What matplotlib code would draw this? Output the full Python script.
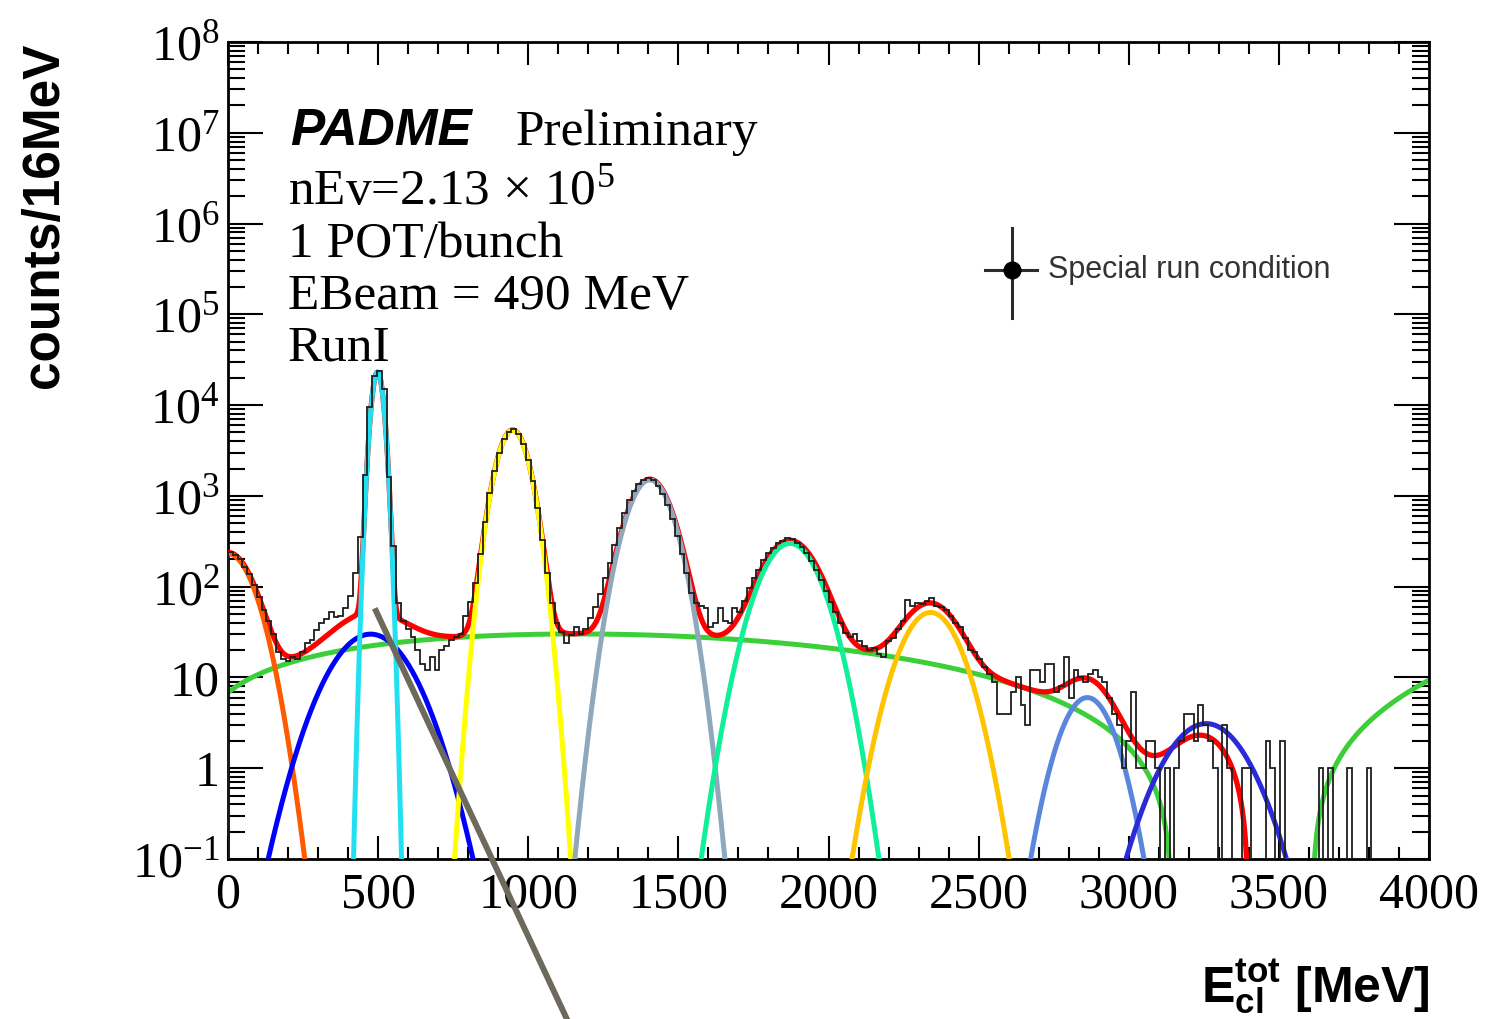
import numpy as np
import matplotlib.pyplot as plt
from matplotlib.lines import Line2D
from matplotlib.ticker import LogLocator, MultipleLocator, NullFormatter

plt.rcParams['font.family'] = 'Liberation Serif'
plt.rcParams['mathtext.fontset'] = 'custom'
plt.rcParams['mathtext.rm'] = 'Liberation Serif'
plt.rcParams['mathtext.it'] = 'Liberation Serif:italic'
plt.rcParams['mathtext.bf'] = 'Liberation Sans:bold'

# total cluster energy, 16 MeV bins from 0 to 4000 MeV
bin_edges = np.arange(0, 4001, 16)
counts = [
    238, 221, 203, 166, 137, 104, 76, 55, 42, 30,
    19, 16, 15, 17, 16, 19, 24, 26, 33, 40,
    44, 52, 46, 48, 58, 78, 141, 355, 1700, 9500,
    21000, 24000, 15000, 1600, 280, 66, 42, 34, 28, 20,
    14, 12, 17, 12, 20, 22, 26, 28, 30, 48,
    68, 110, 230, 520, 1080, 1900, 3000, 4200, 5100, 5500,
    4800, 3700, 2500, 1450, 730, 330, 140, 66, 40, 32,
    24, 29, 36, 30, 34, 45, 60, 82, 125, 180,
    285, 440, 650, 890, 1140, 1360, 1510, 1580, 1480, 1280,
    1040, 790, 555, 365, 230, 140, 85, 66, 62, 58,
    36, 40, 58, 42, 40, 58, 52, 70, 96, 124,
    152, 196, 235, 270, 300, 322, 345, 335, 305, 272,
    236, 192, 152, 118, 90, 68, 52, 40, 31, 28,
    30, 25, 22, 20, 21, 18, 17, 25, 27, 34,
    42, 72, 62, 66, 64, 70, 75, 62, 60, 55,
    48, 40, 36, 27, 20, 19, 16, 13, 11, 9,
    4, 4, 4, 7, 10, 5, 3, 12, 12, 9,
    14, 14, 7, 8, 17, 6, 12, 10, 9, 11,
    12, 10, 9, 6, 4, 3, 1, 2, 7, 1,
    1, 2, 2, 1, 0, 1, 0, 1, 2, 4,
    4, 2, 5, 3, 2, 1, 0, 3, 1, 0,
    0, 1, 1, 0, 0, 0, 2, 1, 0, 2,
    0, 0, 0, 0, 0, 0, 0, 1, 0, 1,
    0, 0, 0, 1, 0, 0, 0, 1, 0, 0,
    0, 0, 0, 0, 0, 0, 0, 0, 0, 0,
]

# gaussian components of the fit: amplitude, mean [MeV], sigma [MeV]
peak_amp = [231, 30, 23000, 5300, 1500, 300, 52, 6.0, 3.1]
peak_mean = [0, 475, 498, 948, 1405, 1872, 2340, 2862, 3258]
peak_sigma = [65, 101, 16.1, 41.5, 57, 74, 74, 66, 102]
peak_colors = ['#ff5a00', '#0000ff', '#22e0f2', '#ffff00', '#90a8bc',
               '#10f098', '#ffc400', '#5a86dc', '#2a2ad8']

# pol4 background, t in GeV: (r1 - t)(r2 - t)(c0 + c1 t + c2 t^2)
bkg_roots = [3.145, 3.61]
bkg_coef = [0.6, 4.0, 0.714]
fit_max = 3600.

x = np.linspace(0, 4000, 4001)
t = x / 1000.
bkg = (bkg_roots[0] - t) * (bkg_roots[1] - t) * (bkg_coef[0] + bkg_coef[1]*t + bkg_coef[2]*t**2)
peaks = [a * np.exp(-0.5*((x - m)/s)**2) for a, m, s in zip(peak_amp, peak_mean, peak_sigma)]
total = bkg + np.sum(peaks, axis=0)

bkg_draw = np.where(bkg > 0, bkg, np.nan)
total_draw = np.where((total > 0) & (x <= fit_max), total, np.nan)

fig = plt.figure(figsize=(14.85, 10.19), dpi=100)
ax = fig.add_axes([228/1485, 160/1019, 1201/1485, 817/1019])
ax.set_yscale('log')

ax.plot(x, bkg_draw, color='#3ccf3a', lw=3.6, zorder=2)
ax.plot(x, total_draw, color='#ff0000', lw=3.8, zorder=3)
for p, c in zip(peaks, peak_colors):
    ax.plot(x, np.where(p > 1e-4, p, np.nan), color=c, lw=3.6, zorder=4)

h = np.array(counts, dtype=float)
h[h <= 0] = 1e-3
ax.stairs(h, bin_edges, baseline=1e-3, color='#1e1e1e', lw=1.3, zorder=5)

ax.set_xlim(0, 4000)
ax.set_ylim(0.1, 1e8)

# axis ticks, ROOT style: inside, on all four sides
ax.xaxis.set_major_locator(MultipleLocator(500))
ax.xaxis.set_minor_locator(MultipleLocator(100))
ax.set_yticks([10.0**k for k in range(-1, 9)])
ax.set_yticklabels([r'$10^{-1}$', '1', '10'] + [r'$10^{%d}$' % k for k in range(2, 9)])
ax.yaxis.set_minor_locator(LogLocator(base=10, subs=np.arange(2, 10), numticks=30))
ax.yaxis.set_minor_formatter(NullFormatter())
ax.tick_params(which='both', direction='in', top=True, right=True, width=1.5, labelsize=36)
ax.tick_params(axis='x', which='major', length=16.5, pad=9)
ax.tick_params(axis='x', which='minor', length=8.5)
ax.tick_params(axis='y', which='major', length=25, pad=6)
ax.tick_params(axis='y', which='minor', length=12)
for s in ax.spines.values():
    s.set_linewidth(2.0)

fig.text(45/1485, 1 - 215/1019, 'counts/16MeV', rotation=90, ha='center', va='center',
         fontfamily='Liberation Sans', fontweight='bold', fontsize=37)
fig.text(1430/1485, 1 - 1003/1019, r'$\mathbf{E}_{\mathbf{cl}}^{\mathbf{tot}}$ [MeV]',
         ha='right', va='baseline', fontfamily='Liberation Sans', fontweight='bold', fontsize=36)

fig.text(290/1485, 1 - 145/1019, 'PADME', fontfamily='Liberation Sans', fontweight='bold',
         fontstyle='italic', fontsize=37, va='baseline')
fig.text(516/1485, 1 - 145/1019, 'Preliminary', fontsize=37, va='baseline')
fig.text(288/1485, 1 - 204/1019, r'nEv=2.13 $\times$ 10$^{5}$', fontsize=37, va='baseline')
fig.text(288/1485, 1 - 257/1019, '1 POT/bunch', fontsize=37, va='baseline')
fig.text(288/1485, 1 - 309/1019, 'EBeam = 490 MeV', fontsize=37, va='baseline')
fig.text(288/1485, 1 - 361/1019, 'RunI', fontsize=37, va='baseline')

# legend entry
lx, ly = 0.6528, 0.7209
ax.plot([0.6303, 0.6736], [ly, ly], transform=ax.transAxes, color='#2b2b2b', lw=2.2, zorder=6)
ax.plot([lx, lx], [0.6622, 0.7723], transform=ax.transAxes, color='#2b2b2b', lw=2.2, zorder=6)
ax.plot([lx], [ly], 'o', ms=12, color='k', transform=ax.transAxes, zorder=7)
ax.text(0.6828, ly, 'Special run condition', transform=ax.transAxes, va='center',
        fontfamily='Liberation Sans', fontsize=22, color='#333333')

# pointer line
fig.add_artist(Line2D([376/1485, 572/1485], [1 - 611/1019, 1 - 1030/1019],
                      color='#6d695c', lw=4.3, zorder=10))

fig.savefig('out.png', dpi=100)
